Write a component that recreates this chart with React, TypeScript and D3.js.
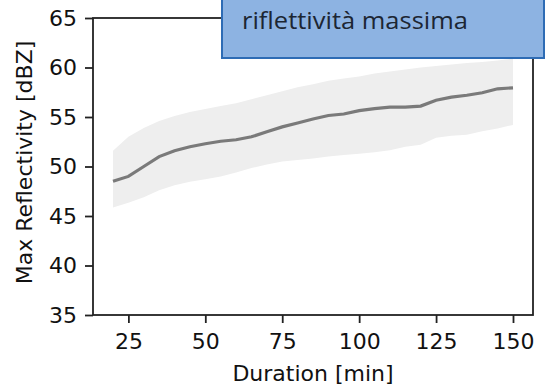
import React, { useEffect, useRef } from 'react';
import * as d3 from 'd3';

// duration in minutes
const durations = [20, 25, 30, 35, 40, 45, 50, 55, 60, 65, 70, 75, 80, 85, 90, 95, 100, 105, 110, 115, 120, 125, 130, 135, 140, 145, 150];
// mean max reflectivity [dBZ]
const meanRefl = [48.5, 49.0, 50.0, 51.0, 51.6, 52.0, 52.3, 52.55, 52.7, 53.0, 53.5, 54.0, 54.4, 54.8, 55.15, 55.3, 55.65, 55.85, 56.0, 56.0, 56.1, 56.7, 57.0, 57.2, 57.45, 57.85, 57.95];
// spread band (lower / upper)
const lowerRefl = [45.85, 46.35, 46.9, 47.6, 48.1, 48.45, 48.7, 49.0, 49.4, 49.85, 50.2, 50.5, 50.65, 50.8, 51.0, 51.15, 51.3, 51.45, 51.65, 52.0, 52.2, 52.9, 53.1, 53.2, 53.55, 53.85, 54.2];
const upperRefl = [51.6, 53.0, 53.9, 54.6, 55.1, 55.5, 55.8, 56.1, 56.4, 56.8, 57.2, 57.6, 58.0, 58.3, 58.65, 58.9, 59.1, 59.4, 59.6, 59.8, 60.0, 60.15, 60.3, 60.45, 60.55, 60.7, 60.9];

const xTicks = [25, 50, 75, 100, 125, 150];
const yTicks = [35, 40, 45, 50, 55, 60, 65];
const boxText = 'riflettività massima';

const App = () => {
  const svgRef = useRef<SVGSVGElement>(null);

  useEffect(() => {
    const svg = d3.select(svgRef.current);
    svg.selectAll('*').remove();

    const margin = { top: 18, right: 15, bottom: 75, left: 93 };
    const W = 548, H = 390;
    const width = W - margin.left - margin.right;
    const height = H - margin.top - margin.bottom;
    const font = "'DejaVu Sans', sans-serif";
    const fs = '22px';

    // matplotlib style 5% x-margins
    const pad = (150 - 20) * 0.05;
    const x = d3.scaleLinear().domain([20 - pad, 150 + pad]).range([0, width]);
    const y = d3.scaleLinear().domain([35, 65]).range([height, 0]);

    const g = svg.append('g').attr('transform', `translate(${margin.left},${margin.top})`);

    const rows = durations.map((d, i) => ({ d, m: meanRefl[i], lo: lowerRefl[i], hi: upperRefl[i] }));

    g.append('path')
      .datum(rows)
      .attr('d', d3.area<any>().x(r => x(r.d)).y0(r => y(r.lo)).y1(r => y(r.hi)))
      .attr('fill', '#eeeeee');

    g.append('path')
      .datum(rows)
      .attr('d', d3.line<any>().x(r => x(r.d)).y(r => y(r.m)))
      .attr('fill', 'none')
      .attr('stroke', '#7a7a7a')
      .attr('stroke-width', 3.2);

    // spines
    g.append('rect')
      .attr('x', 0).attr('y', 0)
      .attr('width', width).attr('height', height)
      .attr('fill', 'none')
      .attr('stroke', '#222')
      .attr('stroke-width', 1.8);

    const xAxis = g.append('g')
      .attr('transform', `translate(0,${height})`)
      .call(d3.axisBottom(x).tickValues(xTicks).tickSize(8).tickPadding(10).tickFormat(d3.format('d')));
    const yAxis = g.append('g')
      .call(d3.axisLeft(y).tickValues(yTicks).tickSize(8).tickPadding(8).tickFormat(d3.format('d')));

    [xAxis, yAxis].forEach(ax => {
      ax.select('.domain').remove();
      ax.selectAll('line').attr('stroke', '#222').attr('stroke-width', 1.8);
      ax.selectAll('text').attr('fill', '#111').style('font-family', font).style('font-size', fs);
    });
    xAxis.selectAll('text').attr('dy', '0.72em');

    svg.append('text')
      .attr('x', margin.left + width / 2)
      .attr('y', 381)
      .attr('text-anchor', 'middle')
      .attr('fill', '#111')
      .style('font-family', font)
      .style('font-size', fs)
      .text('Duration [min]');

    svg.append('text')
      .attr('transform', `translate(32,${margin.top + height / 2 - 4}) rotate(-90)`)
      .attr('text-anchor', 'middle')
      .attr('fill', '#111')
      .style('font-family', font)
      .style('font-size', fs)
      .text('Max Reflectivity [dBZ]');

    // callout box
    svg.append('rect')
      .attr('x', 222).attr('y', -6)
      .attr('width', 322).attr('height', 64)
      .attr('fill', '#8db3e2')
      .attr('stroke', '#2e6cb5')
      .attr('stroke-width', 2);

    svg.append('text')
      .attr('x', 242).attr('y', 29)
      .attr('fill', '#1c2633')
      .attr('textLength', 226)
      .attr('lengthAdjust', 'spacingAndGlyphs')
      .style('font-family', "'Open Sans', sans-serif")
      .style('font-size', '23px')
      .text(boxText);
  }, []);

  return (
    <svg ref={svgRef} width={548} height={390} style={{ position: 'absolute', left: 0, top: 0 }} />
  );
};

export default App;
